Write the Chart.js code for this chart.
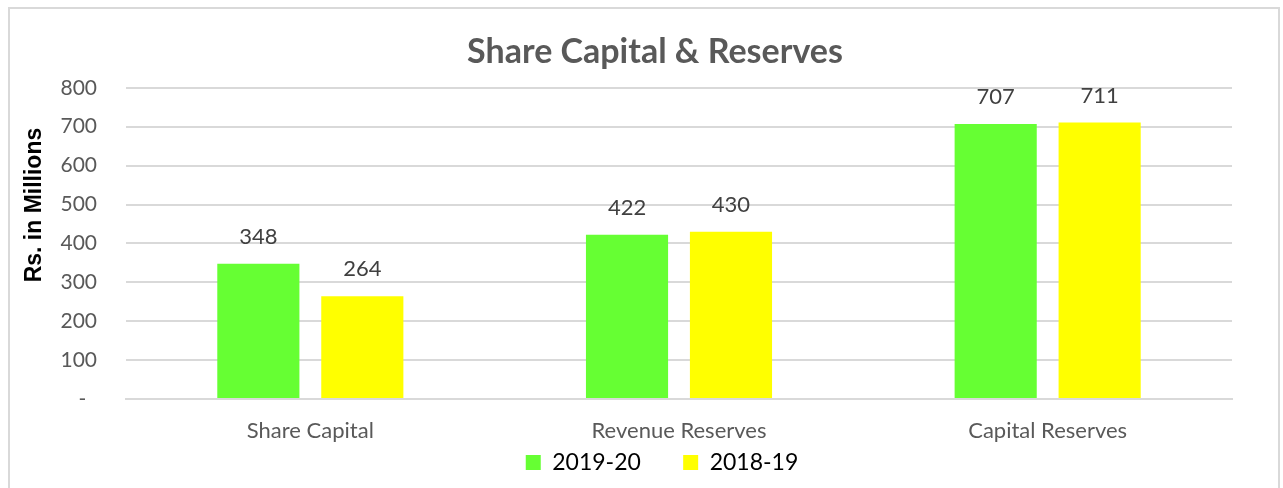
<!DOCTYPE html>
<html>
<head>
<meta charset="utf-8">
<script src="https://cdn.jsdelivr.net/npm/chart.js@4/dist/chart.umd.min.js"></script>
<style>
  body { margin: 0; background: #fff; }
  .frame { position: absolute; left: 8px; top: 7px; width: 1272px; height: 500px; border: 2px solid #d9d9d9; box-sizing: border-box; }
  .wrap { position: absolute; left: 0; top: 0; width: 1283px; height: 488px; }
</style>
</head>
<body>
<div class="frame"></div>
<div class="wrap"><canvas id="chart"></canvas></div>
<script>
const categories = ['Share Capital', 'Revenue Reserves', 'Capital Reserves'];
const seriesNames = ['2019-20', '2018-19'];
const values2019 = [348, 422, 707];
const values2018 = [264, 430, 711];
const yTicks = [0, 100, 200, 300, 400, 500, 600, 700, 800];

const FONT = 'Lato, "Open Sans", sans-serif';

// value labels above each bar
const barLabels = {
  id: 'barLabels',
  afterDatasetsDraw(chart) {
    const ctx = chart.ctx;
    ctx.save();
    ctx.font = '22px ' + FONT;
    ctx.fillStyle = '#404040';
    ctx.textAlign = 'center';
    ctx.textBaseline = 'middle';
    chart.data.datasets.forEach((ds, i) => {
      chart.getDatasetMeta(i).data.forEach((bar, j) => {
        ctx.fillText(ds.data[j], bar.x, bar.y - 27);
      });
    });
    ctx.restore();
  }
};

// title and legend sit a bit right of the canvas centre in the original
const nudge = {
  id: 'nudge',
  afterLayout(chart) {
    if (chart.titleBlock) chart.titleBlock.left += 68;
    if (chart.legend) chart.legend.left += 82;
  }
};

new Chart(document.getElementById('chart'), {
  type: 'bar',
  data: {
    labels: categories,
    datasets: [
      { label: seriesNames[0], data: values2019, backgroundColor: '#66ff33', categoryPercentage: 0.564, barPercentage: 0.79 },
      { label: seriesNames[1], data: values2018, backgroundColor: '#ffff00', categoryPercentage: 0.564, barPercentage: 0.79 },
    ],
  },
  options: {
    responsive: true, maintainAspectRatio: false, animation: false,
    layout: { padding: { left: 10, right: 51, top: 32, bottom: 4 } },
    plugins: {
      title: {
        display: true, text: 'Share Capital & Reserves', color: '#595959',
        font: { family: FONT, size: 34, weight: 'bold' }, padding: { top: 0, bottom: 15 },
      },
      legend: {
        position: 'bottom',
        labels: {
          color: '#000', boxWidth: 15, boxHeight: 15, padding: 7, font: { family: FONT, size: 23 },
          generateLabels: chart => {
            const items = Chart.defaults.plugins.legend.labels.generateLabels(chart);
            items[0].text += '      ';
            return items;
          },
        },
      },
      tooltip: { enabled: false },
    },
    scales: {
      x: {
        afterFit: s => { s.height = 45; },
        grid: { display: false, drawTicks: false },
        border: { color: '#d9d9d9', width: 2 },
        ticks: { color: '#595959', padding: 19, font: { family: FONT, size: 22 } },
      },
      y: {
        min: 0, max: 800,
        afterFit: s => { s.width = 116; },
        afterBuildTicks: s => { s.ticks = yTicks.map(v => ({ value: v })); },
        grid: { color: '#d9d9d9', lineWidth: 2, drawTicks: false },
        border: { display: false },
        ticks: { color: '#595959', padding: 29, font: { family: FONT, size: 21 }, callback: v => v === 0 ? '-  ' : v },
        title: {
          display: true, text: '            Rs. in Millions', color: '#000',
          font: { family: '"Liberation Sans", Arial, sans-serif', size: 23, weight: 'bold' }, padding: { top: 11, bottom: 0 },
        },
      },
    },
  },
  plugins: [barLabels, nudge],
});
</script>
</body>
</html>
